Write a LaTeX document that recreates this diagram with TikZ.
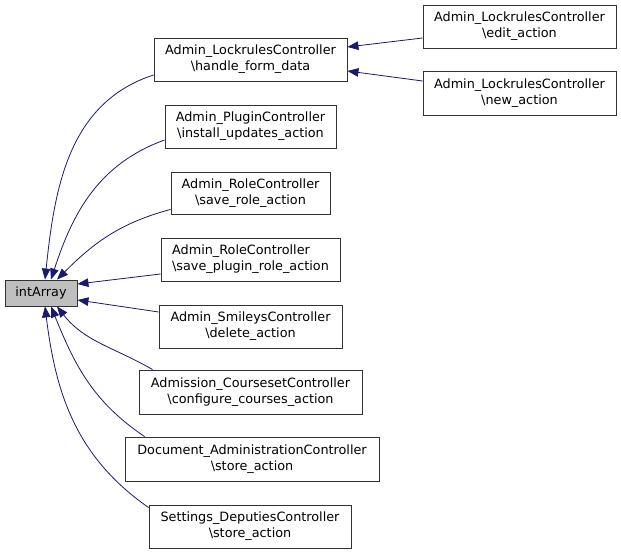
\documentclass[tikz,border=0pt]{standalone}
\usepackage{fontspec}
\setmainfont{DejaVu Sans}
\usetikzlibrary{arrows.meta}
\definecolor{edgeblue}{HTML}{191970}
\definecolor{nodegray}{HTML}{BFBFBF}
\tikzset{
  fn/.style={draw=black!80, line width=0.9pt, align=center, inner sep=0pt,
    font=\fontsize{12.8}{16}\selectfont},
  call/.style={draw=edgeblue, line width=0.8pt,
    {Triangle[length=11pt,width=8.5pt,fill=edgeblue]}-},
}
\begin{document}
\begin{tikzpicture}[x=1pt,y=1pt]
    \useasboundingbox (0,0) rectangle (621,553);

    % Nodo central
    \node[fn, fill=nodegray, minimum width=72pt, minimum height=26pt] (intArray) at (41,260) {intArray};

    % Llamadores
    \node[fn, minimum width=193pt, minimum height=43pt] (handle) at (250.5,493.5) {Admin\_LockrulesController\\\textbackslash handle\_form\_data};
    \node[fn, minimum width=171pt, minimum height=43pt] (install) at (250.5,426.5) {Admin\_PluginController\\\textbackslash install\_updates\_action};
    \node[fn, minimum width=159pt, minimum height=42pt] (saverole) at (250.5,360) {Admin\_RoleController\\\textbackslash save\_role\_action};
    \node[fn, align=left, minimum width=179pt, minimum height=43pt] (saveplugin) at (250.5,293.5) {Admin\_RoleController\\\textbackslash save\_plugin\_role\_action};
    \node[fn, minimum width=183pt, minimum height=43pt] (delete) at (250.5,226.5) {Admin\_SmileysController\\\textbackslash delete\_action};
    \node[fn, minimum width=223pt, minimum height=44pt] (configure) at (250.5,161) {Admission\_CoursesetController\\\textbackslash configure\_courses\_action};
    \node[fn, minimum width=254pt, minimum height=44pt] (docstore) at (252,94) {Document\_AdministrationController\\\textbackslash store\_action};
    \node[fn, minimum width=202pt, minimum height=43pt] (deputies) at (250,26.5) {Settings\_DeputiesController\\\textbackslash store\_action};

    % Segundo nivel
    \node[fn, minimum width=193pt, minimum height=43pt] (edit) at (519.5,526.5) {Admin\_LockrulesController\\\textbackslash edit\_action};
    \node[fn, minimum width=193pt, minimum height=44pt] (new) at (519.5,460) {Admin\_LockrulesController\\\textbackslash new\_action};

    % Aristas hacia intArray
    \draw[call] ([xshift=4pt]intArray.north) to[out=84,in=198] ([yshift=-15.5pt]handle.west);
    \draw[call] ([xshift=10pt]intArray.north) to[out=72,in=200] ([yshift=-13.5pt]install.west);
    \draw[call] ([xshift=16pt]intArray.north) to[out=45,in=195] ([yshift=5pt]saverole.south west);
    \draw[call] ([yshift=9pt]intArray.east) -- ([yshift=-14.5pt]saveplugin.west);
    \draw[call] ([yshift=-7pt]intArray.east) -- ([yshift=14.5pt]delete.west);
    \draw[call] ([xshift=16pt]intArray.south) to[out=-52,in=150] ([xshift=14pt]configure.north west);
    \draw[call] ([xshift=10pt]intArray.south) to[out=-68,in=146] ([xshift=20pt]docstore.north west);
    \draw[call] ([xshift=4pt]intArray.south) to[out=-83,in=145] ([yshift=-3pt]deputies.north west);

    % Aristas hacia handle_form_data
    \draw[call] ([yshift=12.5pt]handle.east) -- ([yshift=-11.5pt]edit.west);
    \draw[call] ([yshift=-11.5pt]handle.east) -- ([yshift=12pt]new.west);
\end{tikzpicture}
\end{document}
